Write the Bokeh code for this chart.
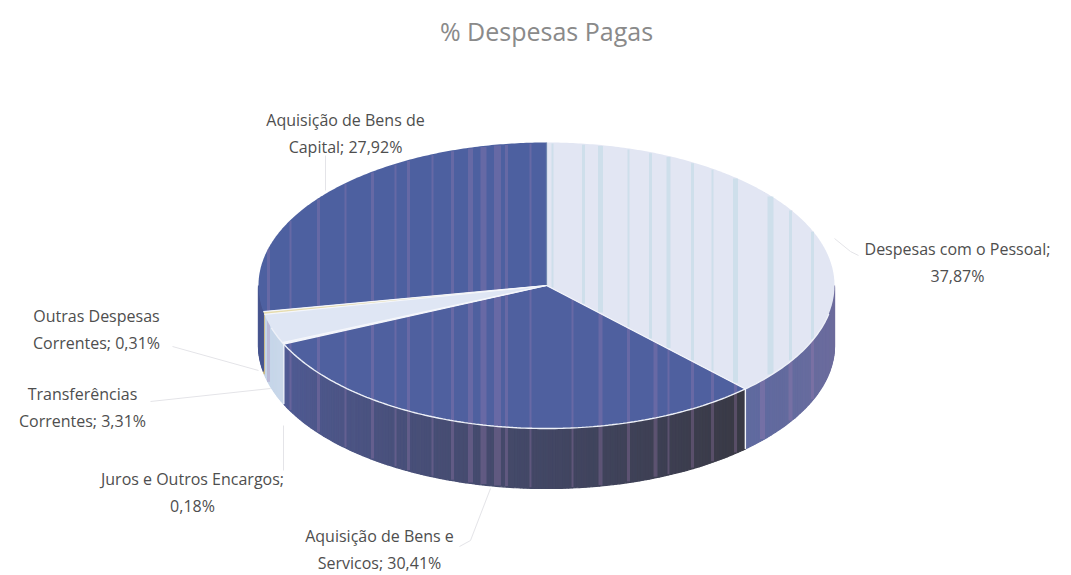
import numpy as np
from bokeh.plotting import figure
from bokeh.core.properties import value
from bokeh.embed import file_html
from bokeh.resources import INLINE

categories = ["Despesas com o Pessoal", "Aquisição de Bens e Serviços", "Juros e Outros Encargos",
              "Transferências Correntes", "Outras Despesas Correntes", "Aquisição de Bens de Capital"]
shares = [37.87, 30.41, 0.18, 3.31, 0.31, 27.92]
label_texts = ["Despesas com o Pessoal;\n37,87%", "Aquisição de Bens e\nServicos; 30,41%",
               "Juros e Outros Encargos;\n0,18%", "Transferências\nCorrentes; 3,31%",
               "Outras Despesas\nCorrentes; 0,31%", "Aquisição de Bens de\nCapital; 27,92%"]
title_text = "% Despesas Pagas"

# styling / layout
top_colors = ["#e2e6f3", "#4f609f", "#eef1f8", "#dfe6f4", "#e6dcae", "#4d60a0"]
side_left = ["#5f6a9f", "#505b94", "#cfdcec", "#c4d4e8", "#c9b98a", "#47558f"]
side_right = ["#6f6c9c", "#393944", "#cfdcec", "#c9d8ea", "#c9b98a", "#47558f"]
label_x = [957, 379, 192, 82, 96, 345]
label_y = [262, 549, 492, 407, 329, 133]
leaders = [([834, 850, 858], [238, 251, 255]),
           ([490, 470, 459], [488, 540, 546]),
           ([283, 283], [425, 470]),
           ([150, 270], [401, 388]),
           ([172, 258], [346, 370]),
           ([325, 325], [155, 190])]
CX, CY, RX, RY, DEPTH = 546, 285, 288, 143, 60


def pt(a):
    return CX + RX * np.sin(a), CY - RY * np.cos(a)


def mix(c1, c2, t):
    a = [int(c1[i:i + 2], 16) for i in (1, 3, 5)]
    b = [int(c2[i:i + 2], 16) for i in (1, 3, 5)]
    return "#%02x%02x%02x" % tuple(int(round(x + (y - x) * t)) for x, y in zip(a, b))


p = figure(width=1071, height=575, x_range=(0, 1071), y_range=(575, 0),
           output_backend="svg", toolbar_location=None, min_border=0,
           outline_line_color=None, background_fill_color="white")
p.axis.visible = False
p.grid.visible = False

edges = 2 * np.pi * np.concatenate([[0], np.cumsum(shares)]) / sum(shares)
dark = [1, 5]
light = [0, 2, 3, 4]


def sector(i):
    ang = np.linspace(edges[i], edges[i + 1], max(3, int((edges[i + 1] - edges[i]) / 0.01)))
    x, y = pt(ang)
    p.patch(np.r_[CX, x], np.r_[CY, y], fill_color=top_colors[i], line_color=None)


# leader lines
for lx, ly in leaders:
    p.line(lx, ly, line_color="#e4e4e8", line_width=1)

# side wall of the front half, as narrow gradient strips
xs, ys, cs = [], [], []
for i in range(len(shares)):
    a0, a1 = max(edges[i], np.pi / 2), min(edges[i + 1], 3 * np.pi / 2)
    if a1 <= a0:
        continue
    n = max(2, int((a1 - a0) / 0.012))
    ang = np.linspace(a0, a1, n + 1)
    for k in range(n):
        x0, y0 = pt(ang[k])
        x1, y1 = pt(ang[k + 1])
        xs.append([x0, x1, x1, x0])
        ys.append([y0, y1, y1 + DEPTH, y0 + DEPTH])
        cs.append(mix(side_right[i], side_left[i], (k + .5) / n))
p.patches(xs, ys, fill_color=cs, line_color=cs, line_width=1.2)

for i in dark:
    sector(i)

# vertical scan banding over the dark parts of the disc
pink = [(268, 3), (290, 2), (318, 3), (345, 2), (372, 3), (395, 2), (408, 3), (432, 2), (452, 3), (470, 5),
        (483, 6), (497, 7), (506, 3), (530, 2), (572, 2), (600, 4), (628, 3), (655, 4), (668, 2), (692, 3),
        (712, 3), (735, 3), (762, 5), (790, 4), (812, 3)]
lf, rg, bt, tp = [], [], [], []
for bx, bw in pink:
    s = np.sqrt(max(0.0, 1 - ((bx - CX) / RX) ** 2))
    lf.append(bx - bw / 2)
    rg.append(bx + bw / 2)
    tp.append(CY - RY * s + 1)
    bt.append(CY + RY * s + DEPTH - 1)
p.quad(left=lf, right=rg, top=tp, bottom=bt, fill_color="#a27fb2", fill_alpha=0.3, line_color=None)

for i in light:
    sector(i)

# bluish banding on the light sector
xe1, ye1 = pt(edges[1])
cyan = [(552, 2), (583, 3), (600, 5), (628, 2), (650, 3), (668, 4), (692, 3), (712, 2), (735, 5), (770, 6),
        (790, 3), (812, 3)]
lf, rg, bt, tp = [], [], [], []
for bx, bw in cyan:
    s = np.sqrt(max(0.0, 1 - ((bx - CX) / RX) ** 2))
    low = CY + RY * s if bx > xe1 else CY + (bx - CX) * (ye1 - CY) / (xe1 - CX)
    lf.append(bx - bw / 2)
    rg.append(bx + bw / 2)
    tp.append(CY - RY * s + 1)
    bt.append(low - 1)
p.quad(left=lf, right=rg, top=tp, bottom=bt, fill_color="#a9d2dc", fill_alpha=0.35, line_color=None)

# white sector borders
for i in range(len(shares)):
    xe, ye = pt(edges[i])
    p.line([CX, xe], [CY, ye], line_color="#f4f6fb" if 0 < i < 6 else "#6f86b0", line_width=1.2)
fx, fy = pt(np.linspace(np.pi / 2 + .2, 3 * np.pi / 2 - .3, 200))
p.line(fx, fy, line_color="#eef1f8", line_width=1.4)
xe, ye = pt(edges[1])
p.line([xe, xe], [ye, ye + DEPTH], line_color="#f4f6fb", line_width=1.4)
xe, ye = pt(edges[2])
p.line([xe, xe], [ye, ye + DEPTH], line_color="#eef1f8", line_width=1)

# texts
p.text([546], [30], text=[title_text], text_font=value("Open Sans"), text_font_size="25px",
       text_color="#8a8a8a", text_align="center", text_baseline="middle")
p.text(label_x, label_y, text=label_texts, text_font=value("Open Sans"), text_font_size="16px",
       text_color="#4e4e4e", text_align="center", text_baseline="middle", text_line_height=1.2)

open("out.html", "w").write(file_html(p, INLINE))
